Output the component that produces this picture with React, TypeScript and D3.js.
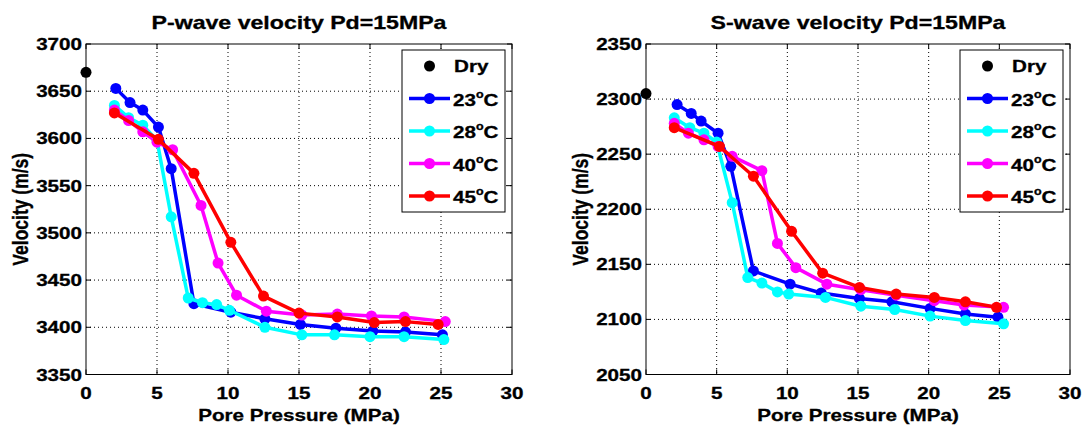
import React from 'react';
import * as d3 from 'd3';

// pore pressure axis
const pressureTicks = [0, 5, 10, 15, 20, 25, 30];
const tempLabels = ['23', '28', '40', '45'];
const tempColors = ['#0000ff', '#00ffff', '#ff00ff', '#ff0000'];

// P-wave (m/s)
const pDry = 3670;
const p23x = [2.1, 3.1, 4.0, 5.1, 6.0, 7.6, 10.2, 12.6, 15.1, 17.6, 20.2, 22.5, 25.1];
const p23v = [3653, 3638, 3630, 3612, 3568, 3425, 3416, 3409, 3403, 3399, 3396, 3395, 3392];
const p28x = [2.0, 3.0, 4.0, 5.0, 6.0, 7.2, 8.2, 9.2, 10.1, 12.6, 15.2, 17.5, 20.0, 22.4, 25.2];
const p28v = [3635, 3622, 3614, 3598, 3517, 3431, 3426, 3424, 3418, 3400, 3392, 3392, 3390, 3390, 3387];
const p40x = [2.0, 3.0, 4.0, 5.0, 6.1, 8.1, 9.3, 10.6, 12.7, 15.2, 17.7, 20.1, 22.4, 25.3];
const p40v = [3630, 3619, 3607, 3596, 3588, 3529, 3468, 3434, 3417, 3413, 3414, 3412, 3411, 3406];
const p45x = [2.0, 5.1, 7.6, 10.2, 12.5, 15.0, 17.7, 20.3, 22.5, 24.8];
const p45v = [3627, 3599, 3563, 3490, 3433, 3415, 3411, 3405, 3406, 3403];
const pTicks = [3350, 3400, 3450, 3500, 3550, 3600, 3650, 3700];

// S-wave (m/s)
const sDry = 2305;
const s23x = [2.2, 3.2, 3.9, 5.1, 6.0, 7.6, 10.2, 12.4, 15.1, 17.4, 20.1, 22.6, 24.9];
const s23v = [2295, 2287, 2280, 2269, 2239, 2144, 2132, 2124, 2119, 2116, 2110, 2105, 2102];
const s28x = [2.0, 3.1, 4.1, 5.0, 6.1, 7.2, 8.2, 9.3, 10.1, 12.7, 15.2, 17.6, 20.1, 22.6, 25.3];
const s28v = [2283, 2274, 2269, 2261, 2206, 2138, 2133, 2125, 2123, 2120, 2112, 2109, 2103, 2099, 2096];
const s40x = [2.0, 3.0, 4.1, 5.1, 6.1, 8.2, 9.3, 10.6, 12.8, 15.2, 17.7, 20.4, 22.5, 25.3];
const s40v = [2278, 2269, 2263, 2257, 2248, 2235, 2169, 2147, 2132, 2127, 2122, 2117, 2113, 2111];
const s45x = [2.0, 5.2, 7.6, 10.3, 12.5, 15.1, 17.7, 20.4, 22.6, 24.8];
const s45v = [2274, 2257, 2230, 2180, 2142, 2129, 2123, 2120, 2116, 2111];
const sTicks = [2050, 2100, 2150, 2200, 2250, 2300, 2350];

const FONT = "'Liberation Sans', Arial, sans-serif";
const SX = 1.25; // the original figure is stretched sideways

const SText = ({ x, y, anchor = 'start', size = 16.5, rotate = false, children }: any) => (
  <g transform={`translate(${x},${y}) scale(${SX},1)${rotate ? ' rotate(-90)' : ''}`}>
    <text textAnchor={anchor} fontSize={size} fontWeight="bold" fontFamily={FONT} fill="#000"
      stroke="#000" strokeWidth={0.3}>
      {children}
    </text>
  </g>
);

const Deg = ({ t }: { t: string }) => (
  <>
    {t}
    <tspan fontSize={10} dy={-8}>o</tspan>
    <tspan dy={8}>C</tspan>
  </>
);

const Panel = ({ left, right, title, dry, xs, vs, yTicks }: any) => {
  const top = 44, bottom = 374.5;
  const x = d3.scaleLinear().domain([0, 30]).range([left, right]);
  const y = d3.scaleLinear().domain([yTicks[0], yTicks[yTicks.length - 1]]).range([bottom, top]);
  const line = d3.line<[number, number]>().x(d => x(d[0])).y(d => y(d[1]));
  const lg = { x0: right - 110, x1: right - 7, y0: 50, y1: 212 };
  const rowY = (i: number) => 66 + i * 32.5;

  return (
    <g>
      {/* grid */}
      {pressureTicks.slice(1, -1).map(t => (
        <line key={'gx' + t} x1={x(t)} x2={x(t)} y1={top} y2={bottom} stroke="#000" strokeWidth={1} strokeDasharray="1,3" />
      ))}
      {yTicks.slice(1, -1).map((t: number) => (
        <line key={'gy' + t} x1={left} x2={right} y1={y(t)} y2={y(t)} stroke="#000" strokeWidth={1} strokeDasharray="1,3" />
      ))}
      {/* ticks */}
      {pressureTicks.map(t => (
        <g key={'tx' + t}>
          <line x1={x(t)} x2={x(t)} y1={bottom} y2={bottom - 5} stroke="#000" />
          <line x1={x(t)} x2={x(t)} y1={top} y2={top + 5} stroke="#000" />
          <SText x={x(t)} y={399} anchor="middle">{t}</SText>
        </g>
      ))}
      {yTicks.map((t: number) => (
        <g key={'ty' + t}>
          <line x1={left} x2={left + 5} y1={y(t)} y2={y(t)} stroke="#000" />
          <line x1={right} x2={right - 5} y1={y(t)} y2={y(t)} stroke="#000" />
          <SText x={left - 4} y={y(t) + 6} anchor="end">{t}</SText>
        </g>
      ))}
      <rect x={left} y={top} width={right - left} height={bottom - top} fill="none" stroke="#000" strokeWidth={1} />

      {/* series */}
      {xs.map((sx: number[], i: number) => {
        const pts = sx.map((v, j) => [v, vs[i][j]] as [number, number]);
        return (
          <g key={'s' + i}>
            <path d={line(pts) || ''} fill="none" stroke={tempColors[i]} strokeWidth={3.5} strokeLinejoin="round" />
            {pts.map((p, j) => (
              <circle key={j} cx={x(p[0])} cy={y(p[1])} r={5.5} fill={tempColors[i]} />
            ))}
          </g>
        );
      })}
      <circle cx={x(0)} cy={y(dry)} r={5.5} fill="#000" />

      {/* legend */}
      <rect x={lg.x0} y={lg.y0} width={lg.x1 - lg.x0} height={lg.y1 - lg.y0} fill="#fff" stroke="#000" strokeWidth={1} />
      <circle cx={lg.x0 + 27.5} cy={rowY(0)} r={5.5} fill="#000" />
      <SText x={lg.x0 + 52} y={rowY(0) + 6}>Dry</SText>
      {tempLabels.map((t, i) => (
        <g key={'lg' + t}>
          <line x1={lg.x0 + 7} x2={lg.x0 + 48} y1={rowY(i + 1)} y2={rowY(i + 1)} stroke={tempColors[i]} strokeWidth={3.5} />
          <circle cx={lg.x0 + 27.5} cy={rowY(i + 1)} r={5.5} fill={tempColors[i]} />
          <SText x={lg.x0 + 51} y={rowY(i + 1) + 7}><Deg t={t} /></SText>
        </g>
      ))}

      {/* labels */}
      <SText x={(left + right) / 2} y={29} anchor="middle" size={18.5}>{title}</SText>
      <SText x={(left + right) / 2} y={421} anchor="middle" size={16.5}>Pore Pressure (MPa)</SText>
      <SText x={left - 58} y={(top + bottom) / 2} anchor="middle" size={17.5} rotate>Velocity (m/s)</SText>
    </g>
  );
};

export default function App() {
  return (
    <svg width={1082} height={426} style={{ position: 'absolute', left: 0, top: 0, background: '#fff' }}>
      <rect width={1082} height={426} fill="#fff" />
      <Panel left={86} right={512} title="P-wave velocity Pd=15MPa" dry={pDry}
        xs={[p23x, p28x, p40x, p45x]} vs={[p23v, p28v, p40v, p45v]} yTicks={pTicks} />
      <Panel left={646} right={1070} title="S-wave velocity Pd=15MPa" dry={sDry}
        xs={[s23x, s28x, s40x, s45x]} vs={[s23v, s28v, s40v, s45v]} yTicks={sTicks} />
    </svg>
  );
}
